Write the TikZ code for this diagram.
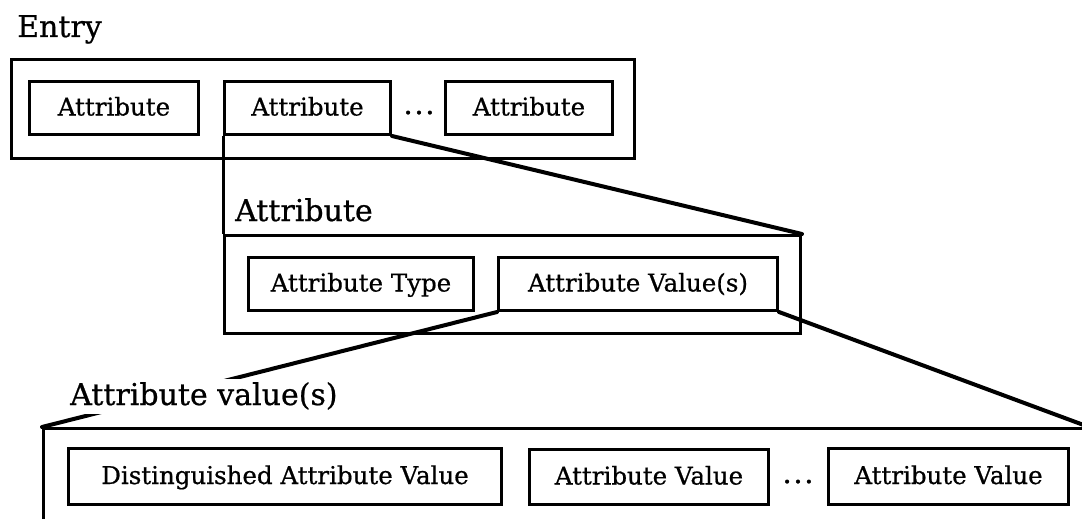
\documentclass[tikz,border=0pt]{standalone}
\usepackage{fontspec}
\setmainfont[FakeBold=0.7]{DejaVu Serif}
\newfontfamily\dotsfont[FakeBold=1.5]{DejaVu Serif}
\tikzset{
  box/.style={draw, line width=3pt, inner sep=0pt, anchor=north west, text height=19pt, text depth=4pt, font=\fontsize{24.5}{29}\selectfont},
  frame/.style={draw, line width=3pt, inner sep=0pt, anchor=north west},
  lbl/.style={anchor=base west, inner sep=0pt, font=\fontsize{30}{36}\selectfont},
  conn/.style={line width=4pt, line cap=round, line join=round},
  edge/.style={line width=3pt},
  dotsnode/.style={anchor=base, inner sep=0pt, font=\dotsfont\fontsize{28}{32}\selectfont},
}
\newcommand{\mydots}{.\hspace{2pt}.\hspace{2pt}.}
\begin{document}
\begin{tikzpicture}[x=1pt,y=-1pt]
\clip (0,0) rectangle (1082,519);
\fill[white] (0,0) rectangle (1082,519);
% Entry level
\node[lbl] (entrylbl) at (17,37) {Entry};
\node[frame, minimum width=623pt, minimum height=99pt] (entry) at (10,58) {};
\node[box, minimum width=169pt, minimum height=53pt] (e1) at (28,80) {Attribute};
\node[box, minimum width=166pt, minimum height=53pt] (e2) at (223,80) {Attribute};
\node[dotsnode] (edots) at (419,114) {\mydots};
\node[box, minimum width=167pt, minimum height=53pt] (e3) at (444,80) {Attribute};
% Attribute level
\node[lbl] (attrlbl) at (235,221) {Attribute};
\node[frame, minimum width=576pt, minimum height=98pt] (attr) at (223,234) {};
\node[box, minimum width=225pt, minimum height=53pt] (at) at (247,256) {Attribute Type};
\node[box, minimum width=279pt, minimum height=53pt] (av) at (497,256) {Attribute Value(s)};
% Attribute values level
\node[frame, minimum width=1044pt, minimum height=110pt] (avs) at (42,427) {};
\node[box, minimum width=433pt, minimum height=56pt] (dav) at (67,447) {Distinguished Attribute Value};
\node[box, minimum width=239pt, minimum height=55pt] (av1) at (528,448) {Attribute Value};
\node[dotsnode] (avdots) at (798,483) {\mydots};
\node[box, minimum width=240pt, minimum height=56pt] (av2) at (827,447) {Attribute Value};
% connectors
\draw[edge] (e2.south west) -- (attr.north west);
\draw[conn] (e2.south east) -- (attr.north east);
\draw[conn] (av.south west) -- (avs.north west);
\draw[conn] (av.south east) -- (avs.north east);
\node[lbl, fill=white, inner xsep=3pt, inner ysep=2pt, text height=24pt, text depth=7pt] (avslbl) at (67,405) {Attribute value(s)};
\end{tikzpicture}
\end{document}
